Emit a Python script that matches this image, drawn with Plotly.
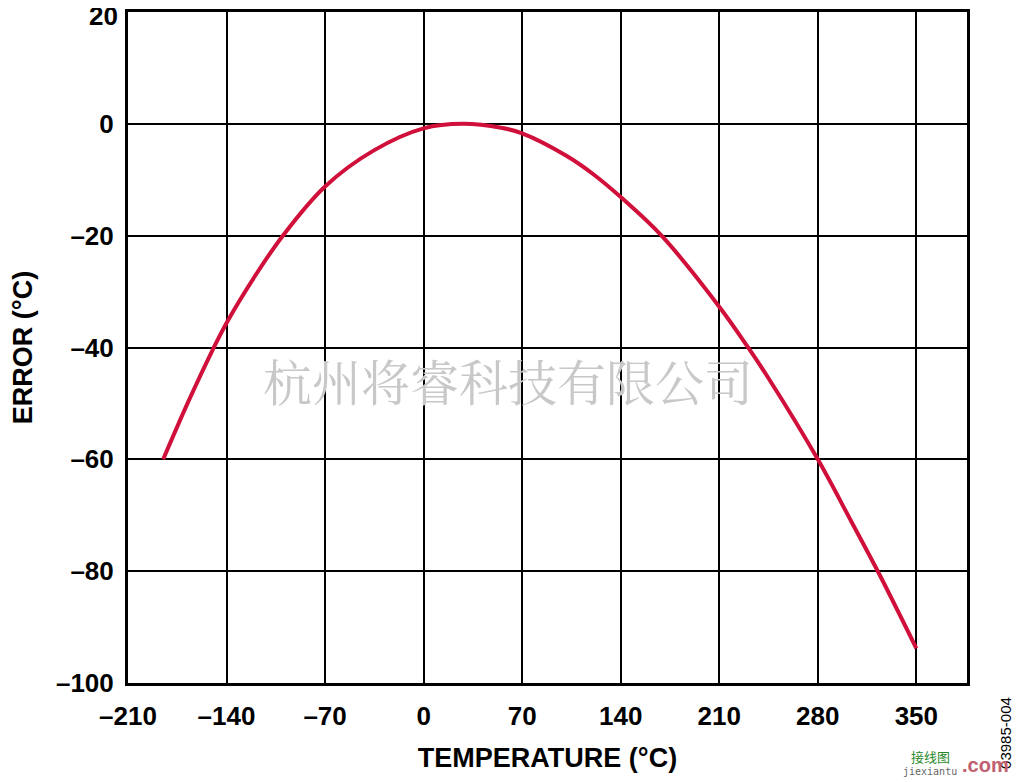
import plotly.graph_objects as go

# Data
temperature = [-185, -167, -150, -140, -120, -100, -70, -35, 0, 28, 55, 70, 102, 121, 140, 169, 210, 230, 245, 280, 304, 323, 350]
error = [-60, -49.6, -40.5, -35.6, -27.3, -20, -11.2, -4.7, -0.8, 0, -0.7, -1.7, -5.8, -9.1, -13.1, -20, -32.7, -39.8, -45.5, -60, -71.2, -80.2, -93.8]

x_ticks = [-210, -140, -70, 0, 70, 140, 210, 280, 350]
x_tick_text = ["–210", "–140", "–70", "0", "70", "140", "210", "280", "350"]
y_ticks = [20, 0, -20, -40, -60, -80, -100]
y_tick_text = ["", "0", "–20", "–40", "–60", "–80", "–100"]
top_tick_label = "20"  # drawn slightly lower than its gridline, as in the reference

FONT = "Arial, Liberation Sans, sans-serif"
TICK_FONT = dict(family=FONT, size=26, color="black", weight="bold")

fig = go.Figure()
fig.add_trace(go.Scatter(
    x=temperature, y=error, mode="lines",
    line=dict(color="#d0103a", width=4, shape="spline", smoothing=1.0),
    showlegend=False, hoverinfo="skip",
))

axis_common = dict(
    showgrid=True, gridcolor="black", gridwidth=2,
    showline=True, linecolor="black", linewidth=3, mirror=True,
    zeroline=False, ticks="", automargin=False, ticklabeloverflow="allow",
    tickfont=TICK_FONT,
)

fig.update_xaxes(
    range=[-210, 386], tickmode="array", tickvals=x_ticks, ticktext=x_tick_text,
    ticklabelstandoff=8,
    title=dict(text="<b>TEMPERATURE (°C)</b>", font=dict(family=FONT, size=27, color="black"), standoff=18),
    **axis_common,
)
fig.update_yaxes(
    range=[-100, 20], tickmode="array", tickvals=y_ticks, ticktext=y_tick_text,
    ticklabelstandoff=6,
    title=dict(text="<b>ERROR (°C)</b>", font=dict(family=FONT, size=27, color="black"), standoff=20),
    **axis_common,
)

fig.add_annotation(
    text=top_tick_label, xref="paper", yref="paper", x=0, y=0.9933,
    xanchor="right", yanchor="middle", xshift=-8, showarrow=False,
    font=TICK_FONT,
)
fig.add_annotation(
    text="杭州将睿科技有限公司", xref="paper", yref="paper",
    x=0.453, y=0.452, showarrow=False,
    font=dict(family="Noto Serif CJK SC, Noto Sans CJK SC", size=49, color="#c8c8c8"),
)
fig.add_annotation(
    text="03985-004", xref="paper", yref="paper", x=1.046, y=-0.075,
    xanchor="center", yanchor="middle", textangle=-90, showarrow=False,
    font=dict(family=FONT, size=15, color="black"),
)
fig.add_annotation(
    text="接线图", xref="paper", yref="paper", x=0.956, y=-0.110,
    xanchor="center", yanchor="middle", showarrow=False,
    font=dict(family="Noto Sans CJK SC", size=13, color="#2a8a2a"),
)
fig.add_annotation(
    text="jiexiantu", xref="paper", yref="paper", x=0.956, y=-0.132,
    xanchor="center", yanchor="middle", showarrow=False,
    font=dict(family="DejaVu Sans Mono", size=10, color="#666666"),
)
fig.add_annotation(
    text="<b>.com</b>", xref="paper", yref="paper", x=1.022, y=-0.122,
    xanchor="center", yanchor="middle", showarrow=False,
    font=dict(family=FONT, size=20, color="#c06070"),
)

# The page body adds an 8 px margin, so the figure is 8 px smaller each way
fig.update_layout(
    width=1016, height=774,
    margin=dict(l=120, r=57, t=4, b=99),
    paper_bgcolor="white", plot_bgcolor="white",
)

fig.write_html("out.html")
